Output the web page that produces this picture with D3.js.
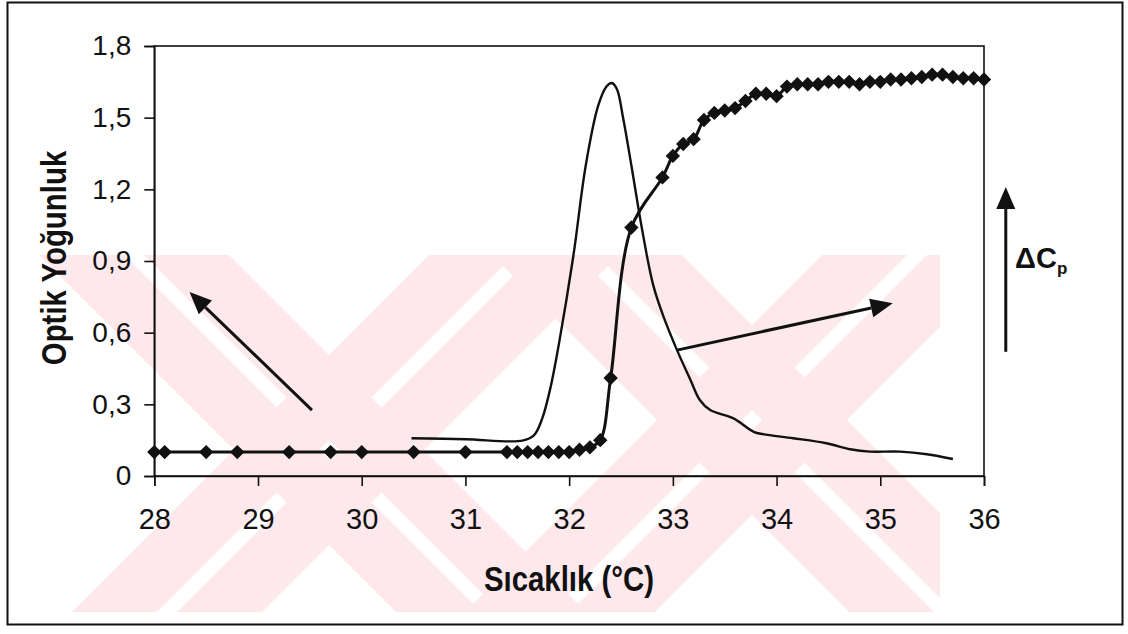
<!DOCTYPE html>
<html>
<head>
<meta charset="utf-8">
<script src="https://cdn.jsdelivr.net/npm/d3@7"></script>
<style>
  html, body { margin: 0; padding: 0; background: #fff; }
  svg { display: block; }
  text { font-family: "Liberation Sans", Arial, sans-serif; fill: #111; }
</style>
</head>
<body>
<svg id="chart" width="1128" height="634"></svg>
<script>
// Optical density (turbidity) readings, °C vs. OD
const odTemp = [28.0, 28.1, 28.5, 28.8, 29.3, 29.7, 30.0, 30.5, 31.0,
  31.4, 31.5, 31.6, 31.7, 31.8, 31.9, 32.0, 32.1, 32.2, 32.3, 32.4, 32.6,
  32.9, 33.0, 33.1, 33.2, 33.3, 33.4, 33.5, 33.6, 33.7, 33.8, 33.9, 34.0,
  34.1, 34.2, 34.3, 34.4, 34.5, 34.6, 34.7, 34.8, 34.9, 35.0, 35.1, 35.2,
  35.3, 35.4, 35.5, 35.6, 35.7, 35.8, 35.9, 36.0];
const odValue = [0.10, 0.10, 0.10, 0.10, 0.10, 0.10, 0.10, 0.10, 0.10,
  0.10, 0.10, 0.10, 0.10, 0.10, 0.10, 0.10, 0.11, 0.12, 0.15, 0.41, 1.04,
  1.25, 1.34, 1.39, 1.41, 1.49, 1.52, 1.53, 1.54, 1.57, 1.60, 1.60, 1.59,
  1.63, 1.64, 1.64, 1.64, 1.65, 1.65, 1.65, 1.64, 1.65, 1.65, 1.66, 1.66,
  1.665, 1.67, 1.68, 1.68, 1.67, 1.665, 1.665, 1.66];

// Heat capacity (ΔCp) trace, drawn in the same plotting units
const cpTemp = [30.48, 31.0, 31.55, 31.66, 31.74, 31.82, 31.9, 32.04, 32.16,
  32.28, 32.36, 32.41, 32.46, 32.52, 32.60, 32.70, 32.81,
  32.91, 33.04, 33.17, 33.26, 33.36, 33.58, 33.78, 33.87, 34.16, 34.48,
  34.71, 34.90, 35.19, 35.45, 35.70];
const cpValue = [0.158, 0.154, 0.148, 0.17, 0.24, 0.37, 0.55, 0.92, 1.30,
  1.55, 1.63, 1.645, 1.62, 1.50, 1.30, 1.04, 0.80,
  0.667, 0.527, 0.402, 0.318, 0.276, 0.242, 0.185, 0.175, 0.158, 0.137,
  0.112, 0.102, 0.102, 0.091, 0.071];

const xTicks = [28, 29, 30, 31, 32, 33, 34, 35, 36];
const yTicks = [0, 0.3, 0.6, 0.9, 1.2, 1.5, 1.8];

const xTitle = "Sıcaklık (°C)";
const yTitle = "Optik Yoğunluk";

// Annotation arrows in data units: [fromX, fromY, toX, toY]
const arrows = [
  [29.52, 0.276, 28.34, 0.77],
  [33.04, 0.527, 35.12, 0.723],
  [36.21, 0.52, 36.21, 1.21]
];

const svg = d3.select("#chart");

// --- pale background emblem: two striped crosses ---
const wmTop = 255, wmBot = 612, wmRight = 940;
svg.append("clipPath").attr("id", "wmclip")
  .append("rect").attr("x", 0).attr("y", wmTop).attr("width", wmRight).attr("height", wmBot - wmTop);
const wmG = svg.append("g").attr("clip-path", "url(#wmclip)");
// each cross: centre (cx, cy); arm thickness t (measured vertically), split gap g
const crosses = [[329, 450], [752, 420]];
const t = 190, gap = 20;
function band(kind, k1, k2) {
  // kind "\" : y = x + k ; kind "/" : y = -x + k
  const pts = kind === "\\"
    ? [[wmTop - k2, wmTop], [wmTop - k1, wmTop], [wmBot - k1, wmBot], [wmBot - k2, wmBot]]
    : [[k1 - wmTop, wmTop], [k2 - wmTop, wmTop], [k2 - wmBot, wmBot], [k1 - wmBot, wmBot]];
  wmG.append("polygon").attr("points", pts.map(p => p.join(",")).join(" "))
    .attr("fill", "#fde8ec");
}
crosses.forEach(([cx, cy]) => {
  const c0 = cy - cx, d0 = cy + cx;
  band("\\", c0 - t / 2, c0 - gap / 2);
  band("\\", c0 + gap / 2, c0 + t / 2);
  band("/", d0 - t / 2, d0 - gap / 2);
  band("/", d0 + gap / 2, d0 + t / 2);
});

// outer frame
svg.append("rect").attr("x", 7.5).attr("y", 2.5).attr("width", 1115).attr("height", 622)
  .attr("fill", "none").attr("stroke", "#111").attr("stroke-width", 2);

const x = d3.scaleLinear().domain([28, 36]).range([154.3, 984]);
const y = d3.scaleLinear().domain([0, 1.8]).range([476, 46]);

const fmt = d => d === 0 ? "0" : d3.format(".1f")(d).replace(".", ",");

// plot box
svg.append("rect")
  .attr("x", x(28)).attr("y", y(1.8))
  .attr("width", x(36) - x(28)).attr("height", y(0) - y(1.8))
  .attr("fill", "none").attr("stroke", "#111").attr("stroke-width", 1.6);

// axes
const xAxis = svg.append("g").attr("transform", `translate(0,${y(0)})`)
  .call(d3.axisBottom(x).tickValues(xTicks).tickSize(10).tickPadding(22).tickFormat(d3.format("d")));
const yAxis = svg.append("g").attr("transform", `translate(${x(28)},0)`)
  .call(d3.axisLeft(y).tickValues(yTicks).tickSize(10).tickPadding(13).tickFormat(fmt));
[xAxis, yAxis].forEach(g => {
  g.select(".domain").attr("stroke", "#111").attr("stroke-width", 1.6);
  g.selectAll(".tick line").attr("stroke", "#111").attr("stroke-width", 1.6);
  g.selectAll(".tick text").attr("font-size", 28).attr("fill", "#111")
    .attr("font-family", "Liberation Sans, Arial, sans-serif");
});
xAxis.selectAll(".tick text").attr("dy", "0.71em").attr("font-size", 29);

// axis titles
svg.append("text")
  .attr("transform", `translate(569,591) scale(0.84,1)`)
  .attr("text-anchor", "middle").attr("font-size", 35).attr("font-weight", "bold")
  .text(xTitle);
svg.append("text")
  .attr("transform", `translate(66,258) rotate(-90) scale(0.84,1)`)
  .attr("text-anchor", "middle").attr("font-size", 35).attr("font-weight", "bold")
  .text(yTitle);

// ΔCp trace
const line = d3.line().x(d => x(d[0])).y(d => y(d[1])).curve(d3.curveCatmullRom.alpha(0.5));
svg.append("path")
  .datum(cpTemp.map((tt, i) => [tt, cpValue[i]]))
  .attr("d", line).attr("fill", "none").attr("stroke", "#111").attr("stroke-width", 2.4)
  .attr("stroke-linejoin", "round");

// optical density series with diamond markers
const odData = odTemp.map((tt, i) => [tt, odValue[i]]);
svg.append("path")
  .datum(odData)
  .attr("d", line).attr("fill", "none").attr("stroke", "#111").attr("stroke-width", 3)
  .attr("stroke-linejoin", "round");
const r = 7.2;
svg.append("g").selectAll("path").data(odData).join("path")
  .attr("transform", d => `translate(${x(d[0])},${y(d[1])})`)
  .attr("d", `M0,${-r}L${r},0L0,${r}L${-r},0Z`)
  .attr("fill", "#111");

// annotation arrows
arrows.forEach(([x1, y1, x2, y2]) => {
  const p1 = [x(x1), y(y1)], p2 = [x(x2), y(y2)];
  const ang = Math.atan2(p2[1] - p1[1], p2[0] - p1[0]);
  const L = 22, Wd = 9.5;
  const bx = p2[0] - L * Math.cos(ang), by = p2[1] - L * Math.sin(ang);
  svg.append("line")
    .attr("x1", p1[0]).attr("y1", p1[1]).attr("x2", bx).attr("y2", by)
    .attr("stroke", "#111").attr("stroke-width", 3);
  const nx = -Math.sin(ang), ny = Math.cos(ang);
  svg.append("polygon")
    .attr("points", [
      p2,
      [bx + nx * Wd, by + ny * Wd],
      [bx - nx * Wd, by - ny * Wd]
    ].map(p => p.join(",")).join(" "))
    .attr("fill", "#111");
});

// ΔCp label
const lab = svg.append("text").attr("x", x(36.3)).attr("y", y(0.87))
  .attr("font-size", 29).attr("font-weight", "bold");
lab.append("tspan").text("ΔC");
lab.append("tspan").attr("font-size", 17).attr("dy", 6).text("p");
</script>
</body>
</html>
